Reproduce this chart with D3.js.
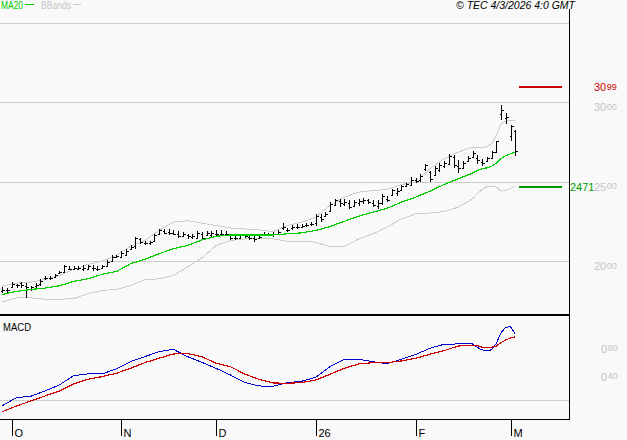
<!DOCTYPE html>
<html><head><meta charset="utf-8">
<script src="https://cdn.jsdelivr.net/npm/d3@7"></script>
<style>html,body{margin:0;padding:0;background:#f9f9f9}svg{display:block}text{font-family:"Liberation Sans",Arial,sans-serif}</style>
</head><body><svg id="c" width="627" height="440"></svg>
<script>
const high=[1839,1833,1874,1856,1874,1864,1849,1864,1891,1906,1906,1919,1940,1975,1969,1971,1973,1975,1979,1975,1971,1979,2011,2042,2044,2065,2076,2101,2157,2149,2132,2132,2170,2206,2202,2202,2195,2191,2185,2170,2170,2191,2185,2189,2189,2195,2195,2189,2174,2170,2174,2174,2164,2159,2168,2185,2180,2185,2199,2241,2212,2231,2233,2237,2243,2247,2300,2300,2310,2373,2394,2394,2394,2384,2388,2394,2400,2394,2388,2384,2426,2409,2457,2463,2484,2493,2530,2526,2551,2614,2572,2598,2619,2631,2677,2671,2640,2631,2663,2694,2667,2642,2660,2698,2761,2985,2935,2860,2824];
const low=[1803,1805,1833,1835,1833,1772,1812,1833,1849,1885,1885,1896,1919,1927,1944,1944,1944,1940,1944,1940,1940,1950,1965,1996,2021,2021,2032,2074,2080,2111,2101,2101,2126,2168,2170,2164,2164,2147,2153,2143,2143,2143,2139,2159,2153,2159,2164,2159,2138,2136,2143,2149,2138,2122,2143,2159,2159,2153,2164,2199,2185,2201,2206,2210,2216,2226,2226,2247,2279,2310,2346,2342,2346,2331,2342,2352,2363,2363,2342,2331,2356,2373,2415,2415,2442,2467,2472,2493,2499,2572,2499,2535,2562,2589,2604,2587,2556,2583,2625,2652,2614,2598,2629,2642,2681,2893,2866,2761,2663];
const open=[1815,1820,1842,1850,1864,1846,1825,1843,1858,1895,1895,1905,1925,1935,1955,1955,1955,1955,1950,1960,1955,1958,1972,2005,2030,2030,2040,2080,2095,2140,2118,2115,2130,2172,2190,2185,2180,2170,2160,2165,2155,2150,2175,2165,2165,2175,2175,2170,2165,2145,2150,2165,2155,2145,2148,2165,2170,2165,2170,2210,2200,2210,2215,2220,2228,2235,2240,2280,2285,2320,2355,2380,2360,2365,2350,2370,2380,2385,2370,2350,2365,2395,2420,2430,2450,2475,2480,2510,2510,2580,2560,2545,2575,2600,2615,2660,2600,2590,2630,2660,2650,2625,2635,2650,2690,2925,2905,2790,2820];
const close=[1822,1820,1860,1850,1850,1840,1840,1855,1880,1898,1898,1912,1932,1970,1955,1958,1958,1960,1972,1958,1955,1970,1998,2030,2032,2055,2068,2092,2145,2125,2118,2120,2165,2198,2182,2180,2175,2160,2172,2158,2158,2180,2150,2180,2178,2170,2175,2170,2150,2148,2165,2158,2148,2140,2155,2170,2165,2170,2185,2215,2195,2218,2220,2225,2232,2238,2285,2270,2300,2360,2385,2365,2375,2345,2375,2380,2385,2375,2355,2365,2415,2385,2450,2445,2475,2485,2515,2505,2540,2605,2520,2585,2610,2620,2665,2610,2585,2620,2650,2685,2640,2620,2650,2690,2755,2955,2910,2855,2692];
const sampleIdx=[0,3,6,9,12,15,18,21,24,27,30,33,36,39,42,45,48,51,54,57,60,63,66,69,72,75,78,81,84,87,90,93,96,99,100,101,102,103,104,105,106,107,108];
const ma20=[1793,1812,1824,1833,1847,1875,1891,1919,1937,1986,2013,2049,2080,2101,2135,2159,2167,2167,2167,2167,2174,2180,2195,2220,2253,2285,2310,2335,2373,2404,2442,2484,2520,2556,2572,2583,2589,2598,2619,2646,2667,2677,2688];
const bbUpper=[1847,1864,1870,1887,1912,1950,1981,2002,2038,2095,2132,2195,2248,2256,2241,2226,2211,2205,2199,2188,2226,2247,2279,2352,2404,2436,2446,2453,2484,2499,2583,2646,2688,2719,2715,2715,2723,2740,2793,2866,2883,2887,2887];
const bbLower=[1745,1772,1772,1763,1763,1766,1797,1818,1824,1849,1885,1891,1912,1965,2023,2100,2132,2142,2142,2142,2128,2128,2121,2094,2094,2142,2174,2216,2268,2299,2305,2314,2342,2394,2426,2453,2470,2476,2468,2442,2447,2461,2472];
const macd=[-0.073,0.041,0.06,0.135,0.22,0.352,0.376,0.376,0.447,0.55,0.621,0.692,0.725,0.621,0.541,0.456,0.362,0.258,0.206,0.201,0.253,0.272,0.329,0.48,0.583,0.583,0.55,0.522,0.583,0.65,0.739,0.796,0.801,0.801,0.753,0.716,0.711,0.716,0.81,0.961,1.037,1.046,0.937];
const signal=[-0.158,-0.077,-0.007,0.064,0.135,0.234,0.30,0.338,0.385,0.456,0.536,0.598,0.659,0.664,0.621,0.527,0.48,0.376,0.30,0.248,0.244,0.253,0.291,0.371,0.456,0.517,0.536,0.536,0.56,0.598,0.654,0.706,0.772,0.782,0.777,0.753,0.753,0.753,0.772,0.82,0.857,0.886,0.9];
const monthIdx=[2,25,45,66,87,107];
const monthLabels=["O","N","D","26","F","M"];
const priceTicks=[2000,2500,3000,3500];
const priceLabels=[[2000,"20","00"],[2500,"25","00"],[3000,"30","00"]];
const macdLabels=[[0.8,"0","80"],[0.4,"0","40"]];
const targetHigh=3099, targetLow=2471;

const svg=d3.select("#c");
const x=d3.scaleLinear().domain([0,108]).range([2.3,515.3]);
const y=d3.scaleLinear().domain([2000,3000]).range([261.5,102.5]);
const ym=d3.scaleLinear().domain([0,0.8]).range([400.5,344]);
const R=569.5;
const px=v=>Math.round(v)+0.5;

svg.append("rect").attr("width",627).attr("height",440).attr("fill","#f9f9f9");
const g=svg.append("g").attr("shape-rendering","crispEdges");
const hline=(yy,c,w,x1=0,x2=R)=>g.append("line").attr("x1",x1).attr("x2",x2).attr("y1",yy).attr("y2",yy).attr("stroke",c).attr("stroke-width",w);

priceTicks.forEach(p=>hline(y(p),"#cccccc",1));
hline(ym(0),"#cccccc",1);

const drawLine=(scale,vals,c,w)=>{
  const l=d3.line().x((d,i)=>x(sampleIdx[i])).y(d=>scale(d));
  g.append("path").attr("d",l(vals)).attr("fill","none").attr("stroke",c).attr("stroke-width",w);
};
drawLine(y,bbUpper,"#cccccc",1);
drawLine(y,bbLower,"#cccccc",1);

const bars=g.append("g").attr("stroke","#000").attr("stroke-width",1);
high.forEach((h,i)=>{
  const cx=px(x(i));
  bars.append("line").attr("x1",cx).attr("x2",cx).attr("y1",y(h)).attr("y2",y(low[i]));
  bars.append("line").attr("x1",cx-2).attr("x2",cx).attr("y1",px(y(open[i]))).attr("y2",px(y(open[i])));
  bars.append("line").attr("x1",cx).attr("x2",cx+2).attr("y1",px(y(close[i]))).attr("y2",px(y(close[i])));
});
drawLine(y,ma20,"#00cc00",1.2);

hline(y(targetHigh),"#cc0000",2,519,562);
hline(y(targetLow),"#009900",2,519,562);

drawLine(ym,macd,"#0000cc",1);
drawLine(ym,signal,"#cc0000",1.2);

hline(315,"#000",2);
hline(419.5,"#000",1);
g.append("line").attr("x1",R).attr("x2",R).attr("y1",9).attr("y2",420).attr("stroke","#000").attr("stroke-width",1);
monthIdx.forEach(i=>{
  const tx=px(x(i));
  g.append("line").attr("x1",tx).attr("x2",tx).attr("y1",419).attr("y2",436).attr("stroke","#000").attr("stroke-width",1);
});
monthIdx.forEach((i,k)=>{
  svg.append("text").attr("x",px(x(i))+2).attr("y",437).attr("font-size",11).attr("fill","#000").text(monthLabels[k]);
});

const label=(yy,a,b,c,xx)=>{
  const t=svg.append("text").attr("x",xx).attr("y",yy).attr("font-size",11).attr("fill",c);
  t.append("tspan").text(a);
  t.append("tspan").attr("font-size",9).attr("dy",-1.5).attr("dx",0.5).text(b);
};
priceLabels.forEach(d=>label(y(d[0])+8.5,d[1],d[2],"#c4c4c4",594));
macdLabels.forEach(d=>label(ym(d[0])+8.5,d[1],d[2],"#c4c4c4",601));
label(91,"30","99","#cc0000",594);
svg.append("text").attr("x",570).attr("y",191).attr("font-size",11).attr("fill","#009900").text(targetLow);

svg.append("text").attr("x",1).attr("y",9).attr("font-size",10).attr("fill","#00cc00").attr("textLength",22).attr("lengthAdjust","spacingAndGlyphs").text("MA20");
hline(4,"#00cc00",1,25,34);
svg.append("text").attr("x",41).attr("y",9).attr("font-size",10).attr("fill","#c4c4c4").attr("textLength",30).attr("lengthAdjust","spacingAndGlyphs").text("BBands");
hline(4,"#cccccc",1,73,81);
svg.append("text").attr("x",456).attr("y",9).attr("font-size",10).attr("font-style","italic").attr("fill","#000").attr("textLength",119).attr("lengthAdjust","spacingAndGlyphs").text("© TEC 4/3/2026 4:0 GMT");
svg.append("text").attr("x",3).attr("y",331).attr("font-size",10).attr("fill","#000").attr("textLength",28).attr("lengthAdjust","spacingAndGlyphs").text("MACD");
</script></body></html>
